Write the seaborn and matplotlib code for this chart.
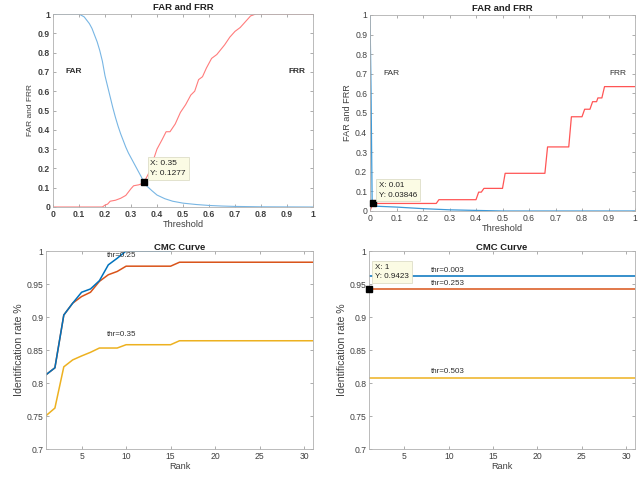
import numpy as np
import pandas as pd
import matplotlib
matplotlib.use("Agg")
import matplotlib.pyplot as plt
import seaborn as sns

sns.set_theme(style="white")
plt.rcParams['font.family'] = ['Liberation Sans', 'DejaVu Sans']

# ---------------- data ----------------
# Top-left: FAR / FRR vs threshold
tl_far_thr = [0, 0.1, 0.12, 0.14, 0.15, 0.16, 0.17, 0.18, 0.19, 0.2, 0.21, 0.22, 0.23, 0.24,
              0.25, 0.26, 0.27, 0.28, 0.29, 0.3, 0.32, 0.34, 0.35, 0.36, 0.38, 0.4, 0.43,
              0.46, 0.5, 0.55, 0.6, 0.65, 0.7, 0.8, 1.0]
tl_far = [1, 1.0, 0.985, 0.95, 0.925, 0.89, 0.855, 0.81, 0.755, 0.68, 0.625, 0.57, 0.515, 0.465,
          0.42, 0.38, 0.345, 0.31, 0.28, 0.255, 0.205, 0.155, 0.1277, 0.11, 0.085, 0.062, 0.043,
          0.03, 0.02, 0.013, 0.008, 0.005, 0.003, 0.001, 0]
tl_frr_thr = [0, 0.19, 0.2, 0.21, 0.22, 0.24, 0.26, 0.28, 0.3, 0.31, 0.33, 0.34, 0.35, 0.37,
              0.39, 0.4, 0.42, 0.435, 0.45, 0.47, 0.49, 0.51, 0.53, 0.545, 0.56, 0.575, 0.59,
              0.61, 0.63, 0.66, 0.68, 0.7, 0.72, 0.74, 0.76, 0.78, 1.0]
tl_frr = [0, 0, 0.01, 0.015, 0.03, 0.035, 0.045, 0.06, 0.095, 0.11, 0.115, 0.12, 0.1277, 0.18,
          0.26, 0.3, 0.35, 0.39, 0.39, 0.43, 0.49, 0.53, 0.58, 0.6, 0.66, 0.675, 0.72,
          0.77, 0.79, 0.84, 0.88, 0.91, 0.93, 0.96, 0.99, 1.0, 1.0]
tl_tip = (0.35, 0.1277)

# Top-right: FAR / FRR vs threshold
tr_far_thr = [0, 0.004, 0.008, 0.012, 0.1, 0.2, 0.3, 0.4, 0.5, 1.0]
tr_far = [1, 0.6, 0.05, 0.025, 0.02, 0.012, 0.006, 0.003, 0, 0]
tr_frr_thr = [0, 0.01, 0.25, 0.26, 0.40, 0.41, 0.42, 0.43, 0.50, 0.51, 0.66, 0.67, 0.75, 0.76,
              0.80, 0.81, 0.83, 0.84, 0.855, 0.86, 0.875, 0.885, 1.0]
tr_frr = [0, 0.0385, 0.0385, 0.0577, 0.0577, 0.0962, 0.0962, 0.1154, 0.1154, 0.1923, 0.1923,
          0.3269, 0.3269, 0.4808, 0.4808, 0.5192, 0.5192, 0.5577, 0.5577, 0.5769, 0.5769,
          0.6346, 0.6346]
tr_tip = (0.01, 0.03846)

# Bottom-left: CMC curves
bl_rank_a = list(range(1, 16))
bl_a = [0.8125, 0.823, 0.903, 0.921, 0.9375, 0.9425, 0.955, 0.979, 0.989, 1.0,
        1.0, 1.0, 1.0, 1.0, 1.0]
bl_rank_b = list(range(1, 32))
bl_b = [0.8125, 0.823, 0.903, 0.921, 0.931, 0.9375, 0.954, 0.964, 0.969, 0.977,
        0.977, 0.977, 0.977, 0.977, 0.977] + [0.983] * 16
bl_c = [0.7505, 0.762, 0.8245, 0.835, 0.841, 0.8465, 0.853, 0.853, 0.853, 0.858,
        0.858, 0.858, 0.858, 0.858, 0.858] + [0.864] * 16
bl_labels = ["thr=0.25", "thr=0.35"]

# Bottom-right: CMC curves
br_rank = list(range(1, 32))
br_a = [0.9615] * 31
br_b = [0.9423] * 31
br_c = [0.808] * 31
br_labels = ["thr=0.003", "thr=0.253", "thr=0.503"]
br_tip = (1, 0.9423)

# ---------------- drawing ----------------
W, H = 639, 480
fig = plt.figure(figsize=(W / 100, H / 100), dpi=100)

def px_axes(l, t, r, b):
    return fig.add_axes([l / W, 1 - b / H, (r - l) / W, (b - t) / H])

GRAY = "#8c8c8c"
TXT = "#404040"
TICK = 6.2
LAB = 6.6
TITLE = 6.8

def style(ax, tick_size=TICK, bold=False):
    for s in ax.spines.values():
        s.set_color("#b0b0b0")
        s.set_linewidth(0.6)
    ax.tick_params(direction="in", length=2.5, width=0.5, colors=GRAY,
                   labelsize=tick_size, labelcolor=TXT, pad=2,
                   top=True, right=True, bottom=True, left=True)
    if bold:
        for lab in ax.get_xticklabels() + ax.get_yticklabels():
            lab.set_fontweight("bold")

def tip(ax, x, y, text, tx, ty, fs=5.8):
    ax.plot([x], [y], marker="s", color="black", markersize=4.5, zorder=5, clip_on=False)
    ax.text(tx, ty, text, fontsize=fs, color="#202020", va="center", ha="left",
            linespacing=1.5, zorder=6,
            bbox=dict(boxstyle="square,pad=0.35", fc="#FBFBE4", ec="#d8d8c0", lw=0.5))

ticks01 = ["0", "0.1", "0.2", "0.3", "0.4", "0.5", "0.6", "0.7", "0.8", "0.9", "1"]

# Top-left
ax1 = px_axes(53, 14, 313, 207)
sns.lineplot(x=tl_far_thr, y=tl_far, ax=ax1, color="#78B6E4", lw=0.8)
sns.lineplot(x=tl_frr_thr, y=tl_frr, ax=ax1, color="#FF7C7C", lw=0.8)
ax1.set_xlim(0, 1); ax1.set_ylim(0, 1)
ax1.set_xticks(np.arange(0, 1.01, 0.1)); ax1.set_yticks(np.arange(0, 1.01, 0.1))
ax1.set_xticklabels(ticks01); ax1.set_yticklabels(ticks01)
style(ax1, bold=True)
ax1.set_title("FAR and FRR", fontsize=TITLE, fontweight="bold", color="#202020", pad=3)
ax1.set_xlabel("Threshold", fontsize=LAB, color=TXT, labelpad=1)
ax1.set_ylabel("FAR and FRR", fontsize=6.0, color=TXT, labelpad=3)
ax1.text(0.05, 0.7, "FAR", fontsize=6.0, fontweight="bold", color="#303030", va="center")
ax1.text(0.905, 0.7, "FRR", fontsize=6.0, fontweight="bold", color="#303030", va="center")
tip(ax1, tl_tip[0], tl_tip[1], "X: 0.35\nY: 0.1277", 0.375, 0.2, fs=6.0)

# Top-right
ax2 = px_axes(370, 15, 635, 211)
sns.lineplot(x=tr_far_thr, y=tr_far, ax=ax2, color="#3E9AD8", lw=0.9)
sns.lineplot(x=tr_frr_thr, y=tr_frr, ax=ax2, color="#FF5555", lw=0.9)
ax2.set_xlim(0, 1); ax2.set_ylim(0, 1)
ax2.set_xticks(np.arange(0, 1.01, 0.1)); ax2.set_yticks(np.arange(0, 1.01, 0.1))
ax2.set_xticklabels(ticks01); ax2.set_yticklabels(ticks01)
style(ax2)
ax2.set_title("FAR and FRR", fontsize=TITLE, fontweight="bold", color="#202020", pad=3)
ax2.set_xlabel("Threshold", fontsize=LAB, color=TXT, labelpad=1)
ax2.set_ylabel("FAR and FRR", fontsize=LAB, color=TXT, labelpad=2)
ax2.text(0.05, 0.7, "FAR", fontsize=6.0, color="#303030", va="center")
ax2.text(0.905, 0.7, "FRR", fontsize=6.0, color="#303030", va="center")
tip(ax2, tr_tip[0], tr_tip[1], "X: 0.01\nY: 0.03846", 0.035, 0.105)

# Bottom-left
ax3 = px_axes(46, 251, 313, 449)
sns.lineplot(x=bl_rank_b, y=bl_c, ax=ax3, color="#EDB120", lw=1.1)
sns.lineplot(x=bl_rank_b, y=bl_b, ax=ax3, color="#D95319", lw=1.1)
sns.lineplot(x=bl_rank_a, y=bl_a, ax=ax3, color="#0072BD", lw=1.1)
ax3.set_xlim(1, 31); ax3.set_ylim(0.7, 1)
ax3.set_xticks([5, 10, 15, 20, 25, 30]); ax3.set_yticks(np.arange(0.7, 1.001, 0.05))
ax3.set_yticklabels(["0.7", "0.75", "0.8", "0.85", "0.9", "0.95", "1"])
style(ax3)
ax3.set_title("CMC Curve", fontsize=TITLE, fontweight="bold", color="#202020", pad=1)
ax3.set_xlabel("Rank", fontsize=LAB, color=TXT, labelpad=1)
ax3.set_ylabel("Identification rate %", fontsize=7.6, color=TXT, labelpad=2)
ax3.text(7.8, 0.9925, bl_labels[0], fontsize=5.8, color="#303030", va="center")
ax3.text(7.8, 0.873, bl_labels[1], fontsize=5.8, color="#303030", va="center")

# Bottom-right
ax4 = px_axes(369, 251, 635, 449)
sns.lineplot(x=br_rank, y=br_a, ax=ax4, color="#0072BD", lw=1.1)
sns.lineplot(x=br_rank, y=br_b, ax=ax4, color="#D95319", lw=1.1)
sns.lineplot(x=br_rank, y=br_c, ax=ax4, color="#EDB120", lw=1.1)
ax4.set_xlim(1, 31); ax4.set_ylim(0.7, 1)
ax4.set_xticks([5, 10, 15, 20, 25, 30]); ax4.set_yticks(np.arange(0.7, 1.001, 0.05))
ax4.set_yticklabels(["0.7", "0.75", "0.8", "0.85", "0.9", "0.95", "1"])
style(ax4)
ax4.set_title("CMC Curve", fontsize=TITLE, fontweight="bold", color="#202020", pad=1)
ax4.set_xlabel("Rank", fontsize=LAB, color=TXT, labelpad=1)
ax4.set_ylabel("Identification rate %", fontsize=7.6, color=TXT, labelpad=2)
ax4.text(8.0, 0.970, br_labels[0], fontsize=5.8, color="#303030", va="center")
ax4.text(8.0, 0.951, br_labels[1], fontsize=5.8, color="#303030", va="center")
ax4.text(8.0, 0.817, br_labels[2], fontsize=5.8, color="#303030", va="center")
tip(ax4, br_tip[0], br_tip[1], "X: 1\nY: 0.9423", 1.7, 0.9685)

fig.savefig("out.png", dpi=100, facecolor="white")
